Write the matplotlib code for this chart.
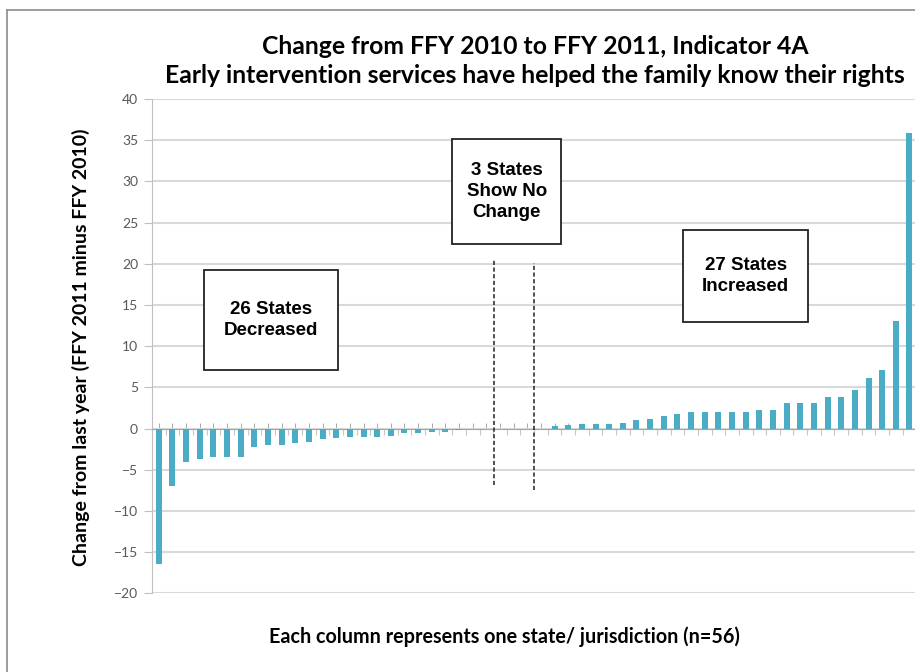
import numpy as np
import matplotlib.pyplot as plt
from matplotlib.lines import Line2D
from matplotlib.patches import Rectangle

# change from last year, one value per state, sorted
decreased = [-16.5, -7.0, -4.1, -3.7, -3.4, -3.4, -3.4, -2.3, -2.0, -2.0,
             -1.8, -1.65, -1.3, -1.1, -1.0, -1.0, -1.0, -0.9, -0.6, -0.6,
             -0.45, -0.4, -0.18, -0.08, -0.08, -0.08]
no_change = [0.0, 0.0, 0.0]
increased = [0.3, 0.45, 0.6, 0.6, 0.6, 0.65, 1.0, 1.2, 1.55, 1.8,
             2.0, 2.05, 2.05, 2.05, 2.05, 2.2, 2.2, 3.05, 3.05, 3.05,
             3.8, 3.85, 4.7, 6.1, 7.05, 13.0, 35.9]
values = np.array(decreased + no_change + increased)
xs = np.arange(len(values))

title = ("Change from FFY 2010 to FFY 2011, Indicator 4A\n"
         "Early intervention services have helped the family know their rights")
xlabel = "Each column represents one state/ jurisdiction (n=56)"
ylabel = "Change from last year (FFY 2011 minus FFY 2010)"

# callout boxes: (x0, x1, y0, y1, text) in data units
boxes = [
    (3.32, 13.1, 7.1, 19.2, "26 States\nDecreased"),
    (21.5, 29.5, 22.45, 35.15, "3 States\nShow No\nChange"),
    (38.4, 47.6, 12.9, 24.15, "27 States\nIncreased"),
]
# dashed separators: (x, y_top, y_bottom)
separators = [(24.56, 20.6, -6.8), (27.5, 20.1, -7.5)]

bar_color = "#4BACC6"
calibri = ["Lato", "DejaVu Sans"]

fig = plt.figure(figsize=(9.15, 6.72), dpi=100)
ax = fig.add_axes([0.1661, 0.1171, 0.8353, 0.7356])

ax.bar(xs, values, width=0.44, color=bar_color, zorder=3)

ax.set_xlim(-0.5, len(values) - 0.5)
ax.set_ylim(-20, 40)
ax.set_yticks(np.arange(-20, 41, 5))
ax.yaxis.grid(True, color="#d9d9d9", linewidth=1.5, zorder=0)
ax.set_axisbelow(True)

for side in ["top", "right"]:
    ax.spines[side].set_visible(False)
ax.spines["left"].set_color("#bfbfbf")
ax.spines["bottom"].set_position(("data", 0))
ax.spines["bottom"].set_color("#a6a6a6")

ax.set_xticks(np.arange(-0.5, len(values), 1.0))
ax.set_xticklabels([])
ax.tick_params(axis="x", length=4, color="#c8c8c8", direction="out")
ax.set_xticks(xs, minor=True)
ax.tick_params(axis="x", which="minor", length=4, color="#9a9a9a", direction="in")
ax.tick_params(axis="y", length=6, color="#bfbfbf", labelcolor="#595959",
               labelsize=10, pad=4)
for lab in ax.get_yticklabels():
    lab.set_family(calibri)

for x0, x1, y0, y1, txt in boxes:
    ax.add_patch(Rectangle((x0, y0), x1 - x0, y1 - y0, facecolor="white",
                           edgecolor="#222222", linewidth=1.3, zorder=5))
    ax.text((x0 + x1) / 2, (y0 + y1) / 2, txt, ha="center", va="center",
            fontsize=13.5, fontweight="bold", family="Liberation Sans",
            linespacing=1.3, zorder=6)

for x, y_top, y_bot in separators:
    ax.plot([x, x], [y_bot, y_top], color="#333333", linestyle=(0, (2.5, 1.5)),
            linewidth=1.2, zorder=4)

fig.text(0.585, 0.909, title, ha="center", va="center", fontsize=17.8,
         fontweight="bold", family=calibri, linespacing=1.3)
fig.text(0.551, 0.052, xlabel, ha="center", va="center", fontsize=14.2,
         fontweight="bold", family=calibri)
fig.text(0.088, 0.483, ylabel, ha="center", va="center", rotation=90,
         fontsize=14, fontweight="bold", family=calibri)

# outer chart frame
fig.add_artist(Line2D([7 / 915, 7 / 915], [0, 662 / 672], color="#8c8c8c",
                      linewidth=1.2, transform=fig.transFigure))
fig.add_artist(Line2D([7 / 915, 1], [662 / 672, 662 / 672], color="#8c8c8c",
                      linewidth=1.2, transform=fig.transFigure))

fig.savefig("out.png", dpi=100)
